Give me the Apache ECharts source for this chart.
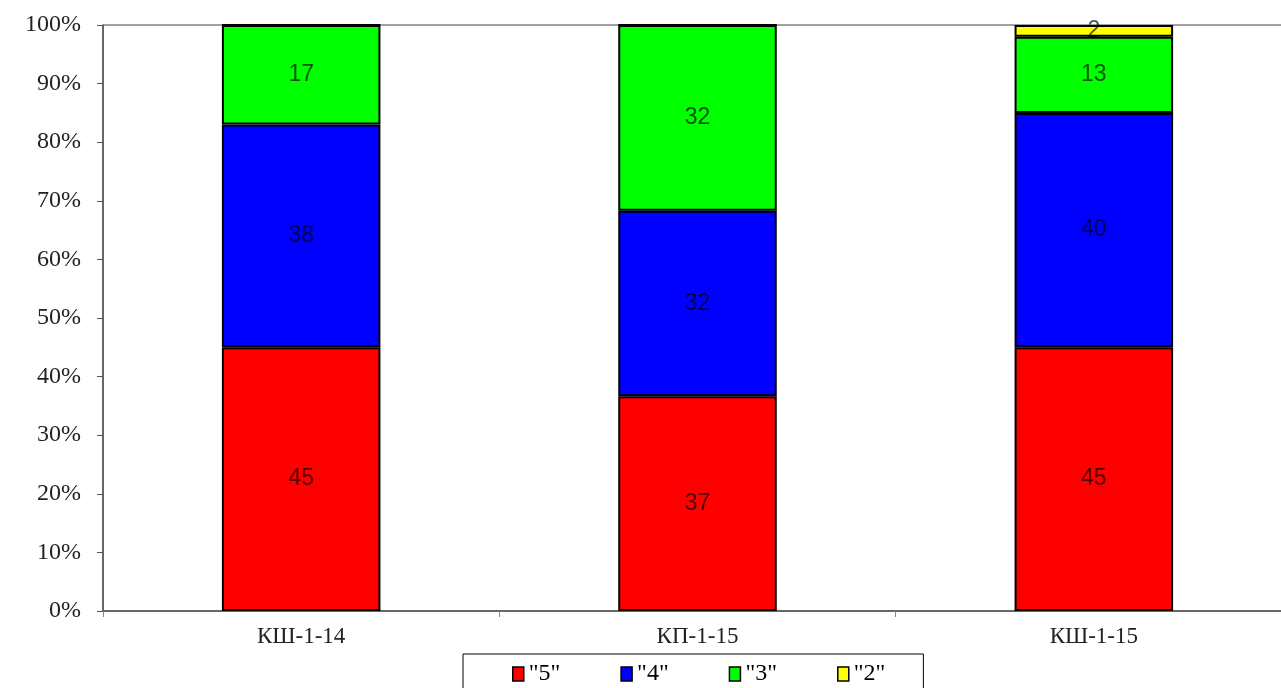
<!DOCTYPE html>
<html><head><meta charset="utf-8">
<script src="https://cdn.jsdelivr.net/npm/echarts@6/dist/echarts.min.js"></script>
<style>html,body{margin:0;padding:0;background:#fff}#c{width:1281px;height:688px}</style>
</head><body><div id="c"></div>
<script>
const categories = ['КШ-1-14', 'КП-1-15', 'КШ-1-15'];
const grade5 = [45, 37, 45];
const grade4 = [38, 32, 40];
const grade3 = [17, 32, 13];
const grade2 = [0, 0, 2];
const seriesNames = ['"5"', '"4"', '"3"', '"2"'];
const seriesColors = ['#ff0000', '#0000ff', '#00ff00', '#ffff00'];
const yTicks = [0, 10, 20, 30, 40, 50, 60, 70, 80, 90, 100];

const all = [grade5, grade4, grade3, grade2];
const totals = categories.map((_, i) => all.reduce((s, a) => s + a[i], 0));

const series = all.map((arr, k) => ({
  name: seriesNames[k],
  type: 'bar',
  stack: 'total',
  barWidth: '40%',
  itemStyle: { color: seriesColors[k], borderColor: '#000', borderWidth: 2 },
  label: {
    show: true, position: 'inside',
    fontFamily: 'Liberation Sans', fontSize: 23,
    color: 'rgba(0,0,0,0.68)',
    formatter: p => arr[p.dataIndex] ? String(arr[p.dataIndex]) : ''
  },
  data: arr.map((v, i) => v / totals[i] * 100)
}));

const chart = echarts.init(document.getElementById('c'));
chart.setOption({
  animation: false,
  grid: { left: 103, right: -11, top: 25, bottom: 77, outerBoundsMode: 'none', containLabel: false,
    show: true, borderColor: '#444', borderWidth: 1 },
  legend: {
    bottom: -14, left: 463,
    data: seriesNames,
    itemWidth: 11, itemHeight: 14, itemGap: 60,
    padding: [8, 38, 16, 49],
    borderColor: '#000', borderWidth: 1,
    textStyle: { fontFamily: 'Liberation Serif', fontSize: 24, color: '#000' },
    itemStyle: { borderColor: '#000', borderWidth: 1.5 },
    icon: 'rect'
  },
  xAxis: {
    type: 'category', data: categories,
    axisLine: { lineStyle: { color: '#555', width: 1.5 } },
    axisTick: { show: true, alignWithLabel: false, length: 6, lineStyle: { color: '#888' } },
    axisLabel: { fontFamily: 'Liberation Serif', fontSize: 23, color: '#222', margin: 14 }
  },
  yAxis: {
    type: 'value', min: 0, max: 100, interval: 10,
    axisLine: { show: true, lineStyle: { color: '#555', width: 1.5 } },
    axisTick: { show: true, length: 6, lineStyle: { color: '#555' } },
    splitLine: { show: false },
    axisLabel: { fontFamily: 'Liberation Serif', fontSize: 24, color: '#222', margin: 22,
      formatter: v => yTicks.includes(v) ? v + '%' : '' }
  },
  series
});
</script></body></html>
